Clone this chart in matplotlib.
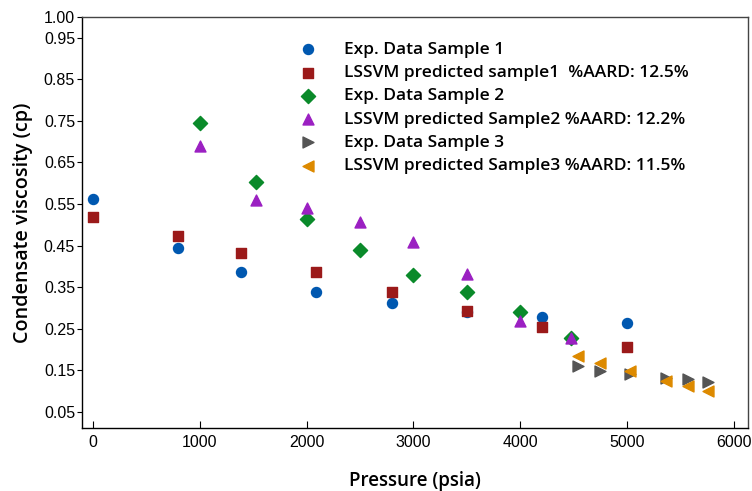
import matplotlib
matplotlib.use('Agg')
import matplotlib.pyplot as plt

# sample 1
p1 = [0, 800, 1390, 2090, 2800, 3500, 4200, 5000]
exp1 = [0.561, 0.444, 0.386, 0.339, 0.311, 0.290, 0.278, 0.264]
pred1 = [0.518, 0.474, 0.432, 0.386, 0.339, 0.293, 0.254, 0.205]

# sample 2
p2 = [1000, 1530, 2000, 2500, 3000, 3500, 4000, 4470]
exp2 = [0.745, 0.603, 0.514, 0.439, 0.378, 0.338, 0.290, 0.228]
pred2 = [0.690, 0.560, 0.540, 0.507, 0.459, 0.382, 0.268, 0.228]

# sample 3
p3 = [4535, 4745, 5020, 5362, 5565, 5750]
exp3 = [0.159, 0.147, 0.140, 0.130, 0.128, 0.121]
pred3 = [0.183, 0.167, 0.147, 0.124, 0.112, 0.100]

labels = ['Exp. Data Sample 1',
          'LSSVM predicted sample1  %AARD: 12.5%',
          'Exp. Data Sample 2',
          'LSSVM predicted Sample2 %AARD: 12.2%',
          'Exp. Data Sample 3',
          'LSSVM predicted Sample3 %AARD: 11.5%']

xticks = [0, 1000, 2000, 3000, 4000, 5000, 6000]
yticks = [0.05, 0.15, 0.25, 0.35, 0.45, 0.55, 0.65, 0.75, 0.85, 0.95, 1.00]

fig = plt.figure(figsize=(7.52, 4.91), dpi=100)
ax = fig.add_axes([0.109, 0.128, 0.886, 0.837])

ms = 52
ax.scatter(p1, exp1, s=ms, marker='o', color='#0058b0', label=labels[0], zorder=3)
ax.scatter(p1, pred1, s=ms, marker='s', color='#9b1a1a', label=labels[1], zorder=3)
ax.scatter(p2, exp2, s=ms, marker='D', color='#0a8a2a', label=labels[2], zorder=3)
ax.scatter(p2, pred2, s=ms + 10, marker='^', color='#9b20c2', label=labels[3], zorder=3)
ax.scatter(p3, exp3, s=ms + 10, marker='>', color='#555555', label=labels[4], zorder=3)
ax.scatter(p3, pred3, s=ms + 10, marker='<', color='#dd8a00', label=labels[5], zorder=4)

ax.set_xlim(-100, 6130)
ax.set_ylim(0.01, 1.0)
ax.set_xticks(xticks)
ax.set_yticks(yticks)
ax.set_yticklabels(['%.2f' % v for v in yticks])
ax.tick_params(axis='x', direction='in', length=5, labelsize=11.5, pad=5)
ax.tick_params(axis='y', direction='out', length=3.5, labelsize=11.5, pad=1.5)
for lab in ax.get_xticklabels() + ax.get_yticklabels():
    lab.set_fontfamily('Liberation Sans')

for s in ['top', 'right']:
    ax.spines[s].set_color('#444444')
for s in ax.spines.values():
    s.set_linewidth(1.0)

ax.set_xlabel('Pressure (psia)', fontsize=13.5, fontfamily='Open Sans',
              fontweight='semibold', labelpad=15)
ax.set_ylabel('Condensate viscosity (cp)', fontsize=14.2, fontfamily='Open Sans',
              fontweight='semibold', labelpad=8)

ax.legend(loc='upper left', bbox_to_anchor=(0.3025, 0.957), frameon=False,
          prop={'family': 'Open Sans', 'weight': 'semibold', 'size': 12.5},
          handletextpad=1.07, labelspacing=0.41, borderaxespad=0)

plt.savefig('out.png', dpi=100)
